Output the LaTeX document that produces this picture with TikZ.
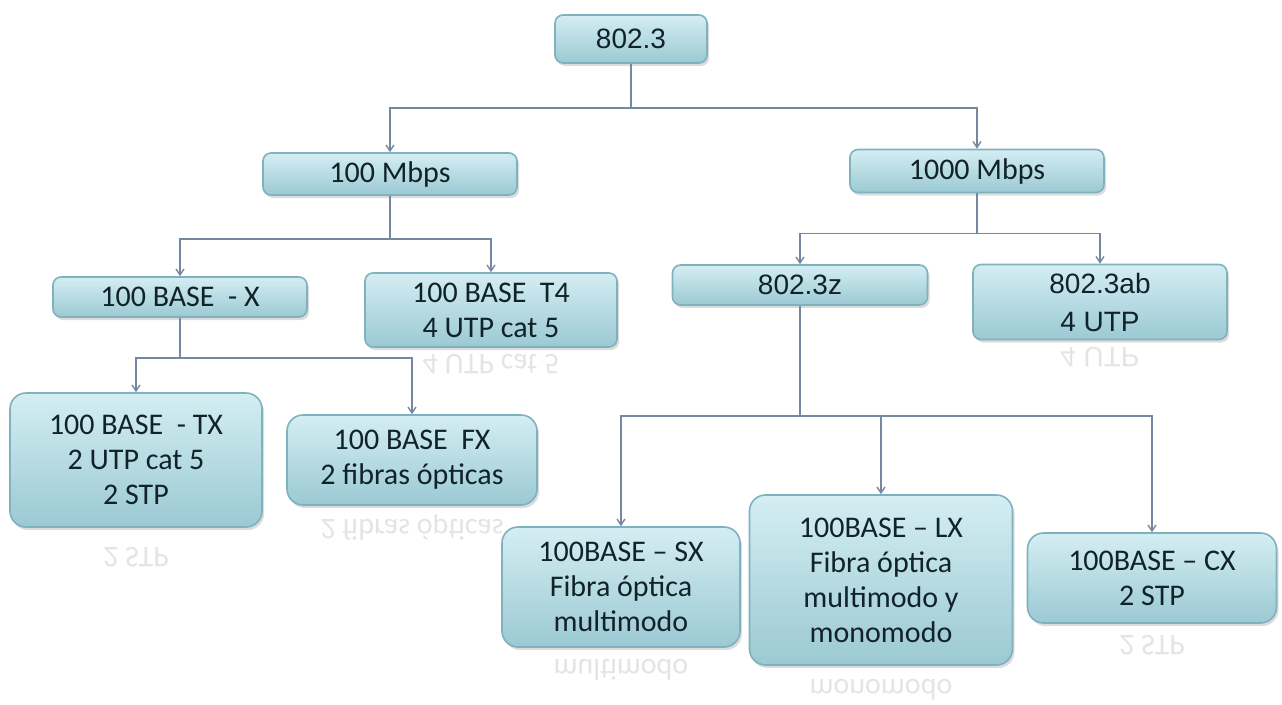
\documentclass[tikz,border=0pt]{standalone}
\usepackage{fontspec}
\setmainfont{Carlito}
\newfontfamily\arialf{Liberation Sans}
\usetikzlibrary{shadows,arrows.meta}
\definecolor{boxtop}{HTML}{D4EEF3}
\definecolor{boxbot}{HTML}{9BC9D3}
\definecolor{boxline}{HTML}{7FB1BE}
\definecolor{txt}{HTML}{12222A}
\definecolor{conncol}{HTML}{7488A2}
\tikzset{
  box/.style={draw=boxline, line width=1.6pt, top color=boxtop, bottom color=boxbot,
    rounded corners=8pt, align=center, text=txt, inner sep=0pt,
    drop shadow={opacity=0.28, shadow xshift=2pt, shadow yshift=-3pt},
    font=\fontsize{30}{35}\selectfont},
  bigbox/.style={box, rounded corners=16pt},
  afont/.style={font=\arialf\fontsize{28}{38}\selectfont},
  conn/.style={draw=conncol, line width=1.4pt, -{Straight Barb[length=6pt,width=8pt]}},
  refl/.style={yscale=-1, transform shape, text=txt, opacity=0.12,
    font=\fontsize{30}{35}\selectfont, inner sep=0pt}
}
\begin{document}
\begin{tikzpicture}[x=1pt,y=-1pt]
\useasboundingbox (0,0) rectangle (1282,704);
% nodes
\node[box, afont, minimum width=152pt, minimum height=48pt] (ieee) at (631,39) {802.3};
\node[box, minimum width=254pt, minimum height=42pt] (m100) at (390,174) {100 Mbps};
\node[box, minimum width=254pt, minimum height=43pt] (m1000) at (977,171) {1000 Mbps};
\node[box, minimum width=254pt, minimum height=40pt] (bx) at (180,297) {100 BASE~ - X};
\node[box, minimum width=252pt, minimum height=74pt] (bt4) at (491,310) {100 BASE~ T4\\4 UTP cat 5};
\node[box, afont, minimum width=255pt, minimum height=40pt] (z) at (800,285) {802.3z};
\node[box, afont, minimum width=254pt, minimum height=75pt] (ab) at (1100,302) {802.3ab\\4 UTP};
\node[bigbox, minimum width=252pt, minimum height=134pt] (tx) at (136,460) {100 BASE~ - TX\\2 UTP cat 5\\2 STP};
\node[bigbox, minimum width=250pt, minimum height=90pt] (fx) at (412,460) {100 BASE~ FX\\2 fibras ópticas};
\node[bigbox, minimum width=238pt, minimum height=120pt] (sx) at (621,587) {100BASE – SX\\Fibra óptica\\multimodo};
\node[bigbox, minimum width=263pt, minimum height=170pt] (lx) at (881,580) {100BASE – LX\\Fibra óptica\\multimodo y\\monomodo};
\node[bigbox, minimum width=249pt, minimum height=90pt] (cx) at (1152,578) {100BASE – CX\\2 STP};
% reflections
\node[refl] (rtx) at (136,557) {2 STP};
\node[refl] (rfx) at (412,527) {2 fibras ópticas};
\node[refl] (rt4) at (491,364) {4 UTP cat 5};
\node[refl, font=\arialf\fontsize{28}{32}\selectfont] (rab) at (1100,357) {4 UTP};
\node[refl] (rsx) at (621,670) {multimodo};
\node[refl] (rlx) at (881,690) {monomodo};
\node[refl] (rcx) at (1152,645) {2 STP};
% connectors
\draw[conn] (ieee.south) -- ++(0,44) -| (m100.north);
\draw[conn] (ieee.south) -- ++(0,44) -| (m1000.north);
\draw[conn] (m100.south) -- ++(0,43) -| (bx.north);
\draw[conn] (m100.south) -- ++(0,43) -| (bt4.north);
\draw[conn] (m1000.south) -- ++(0,40) -| (z.north);
\draw[conn] (m1000.south) -- ++(0,40) -| (ab.north);
\draw[conn] (bx.south) -- ++(0,40) -| (tx.north);
\draw[conn] (bx.south) -- ++(0,40) -| (fx.north);
\draw[conn] (z.south) -- ++(0,110) -| (sx.north);
\draw[conn] (z.south) -- ++(0,110) -| (lx.north);
\draw[conn] (z.south) -- ++(0,110) -| (cx.north);
\end{tikzpicture}
\end{document}
